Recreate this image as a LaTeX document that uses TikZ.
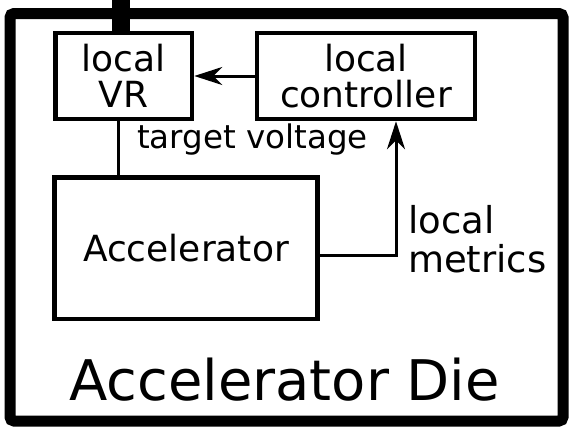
\documentclass[tikz,border=0pt]{standalone}
\usepackage{fontspec}
\setmainfont{DejaVu Sans}
\usetikzlibrary{arrows.meta}
\begin{document}
\begin{tikzpicture}[x=1pt,y=-1pt,
  blk/.style={draw, line width=4.5pt, inner sep=0pt, align=center,
    font=\fontsize{36}{36}\selectfont},
  wire/.style={line width=3pt},
  arr/.style={wire, -{Stealth[length=28pt,width=18pt,inset=9pt]}}]
\useasboundingbox (0,0) rectangle (575,434);
% outer die frame
\draw[line width=11pt, rounded corners=4pt] (10,13.5) rectangle (563,421);
% boxes
\node[blk, minimum width=136.5pt, minimum height=86pt] (vr) at (123.75,76) {local\\VR};
\node[blk, minimum width=218pt, minimum height=86pt] (ctrl) at (366,76) {local\\controller};
\node[blk, minimum width=263pt, minimum height=141.5pt] (acc) at (186,248.25) {Accelerator};
% power pin
\coordinate (pin) at (121,0);
\draw[line width=18pt] (pin) -- (vr.north -| pin);
% connectors
\draw[arr] (ctrl.west) -- (vr.east);
\coordinate (vc) at (118.5,150);
\draw[wire] (vr.south -| vc) -- (acc.north -| vc);
\coordinate (m) at (396,255);
\draw[arr] (acc.east |- m) -- (m) -- (ctrl.south -| m);
% labels
\node[anchor=base west, inner sep=0pt, font=\fontsize{32.5}{32.5}\selectfont] (tv) at (137,148) {target voltage};
\node[anchor=north west, inner sep=0pt, align=left, font=\fontsize{37}{39}\selectfont] (lm) at (408,205) {local\\metrics};
\node[anchor=base, inner sep=0pt, font=\fontsize{56}{56}\selectfont] (die) at (284.5,400) {Accelerator Die};
\end{tikzpicture}
\end{document}
